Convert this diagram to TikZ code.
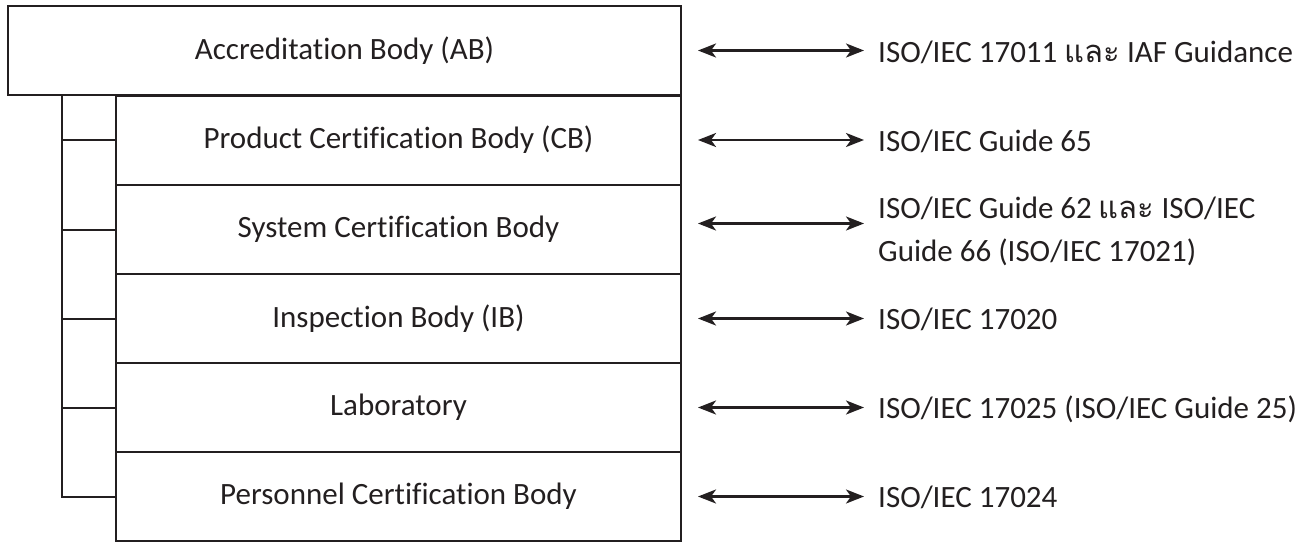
\documentclass[tikz,border=0pt]{standalone}
\usepackage{fontspec}
\setmainfont{Carlito}[Ligatures={NoCommon}]
\newfontfamily\thaifont[Script=Thai]{Loma}
\usetikzlibrary{arrows.meta}
\definecolor{ink}{HTML}{231F20}
\begin{document}
\begin{tikzpicture}[x=1pt,y=1pt,
  font=\fontsize{31}{43}\selectfont,
  every node/.style={text=ink},
  box/.style={draw=ink, line width=2pt, minimum height=89pt, inner sep=0pt},
  abbox/.style={box, minimum width=673pt},
  subbox/.style={box, minimum width=565pt},
  tree/.style={draw=ink, line width=2pt},
  biarrow/.style={draw=ink, line width=2.6pt,
    arrows={Stealth[length=18pt,width=14pt,inset=5pt]-Stealth[length=18pt,width=14pt,inset=5pt]}},
  std/.style={anchor=west, inner sep=0pt, text height=20pt, text depth=0pt, align=left}
]
\useasboundingbox (0,0) rectangle (1309,-541);
\node[abbox]  (ab)   at (344.5,-50.5) {Accreditation Body (AB)};
\node[subbox] (prod) at (398.5,-140)   {Product Certification Body (CB)};
\node[subbox] (sys)  at (398.5,-229.5) {System Certification Body};
\node[subbox] (insp) at (398.5,-318.5) {Inspection Body (IB)};
\node[subbox] (lab)  at (398.5,-407.5) {Laboratory};
\node[subbox] (pers) at (398.5,-496.5) {Personnel Certification Body};

\coordinate (spine) at (62,-95);
\draw[tree] (spine) |- (pers.west);
\draw[tree] (spine |- prod.west) -- (prod.west);
\draw[tree] (spine |- sys.west) -- (sys.west);
\draw[tree] (spine |- insp.west) -- (insp.west);
\draw[tree] (spine |- lab.west) -- (lab.west);

\node[std] (sab)   at (878,-52)    {ISO/IEC 17011 {\thaifont และ} IAF Guidance};
\node[std] (sprod) at (878,-141)   {ISO/IEC Guide 65};
\node[std, text height=, text depth=, anchor=north west] (ssys) at (878,-197)
  {ISO/IEC Guide 62 {\thaifont และ} ISO/IEC\\Guide 66 (ISO/IEC 17021)};
\node[std] (sinsp) at (878,-319.5) {ISO/IEC 17020};
\node[std] (slab)  at (878,-408.5) {ISO/IEC 17025 (ISO/IEC Guide 25)};
\node[std] (spers) at (878,-497.5) {ISO/IEC 17024};

\draw[biarrow] ([xshift=16pt]ab.east)   -- ([xshift=-14pt]sab.west |- ab.east);
\draw[biarrow] ([xshift=16pt]prod.east) -- ([xshift=-14pt]sprod.west |- prod.east);
\draw[biarrow] ([xshift=16pt,yshift=6pt]sys.east) -- ([xshift=-14pt,yshift=6pt]sys.east -| ssys.west);
\draw[biarrow] ([xshift=16pt]insp.east) -- ([xshift=-14pt]sinsp.west |- insp.east);
\draw[biarrow] ([xshift=16pt]lab.east)  -- ([xshift=-14pt]slab.west |- lab.east);
\draw[biarrow] ([xshift=16pt]pers.east) -- ([xshift=-14pt]spers.west |- pers.east);
\end{tikzpicture}
\end{document}
